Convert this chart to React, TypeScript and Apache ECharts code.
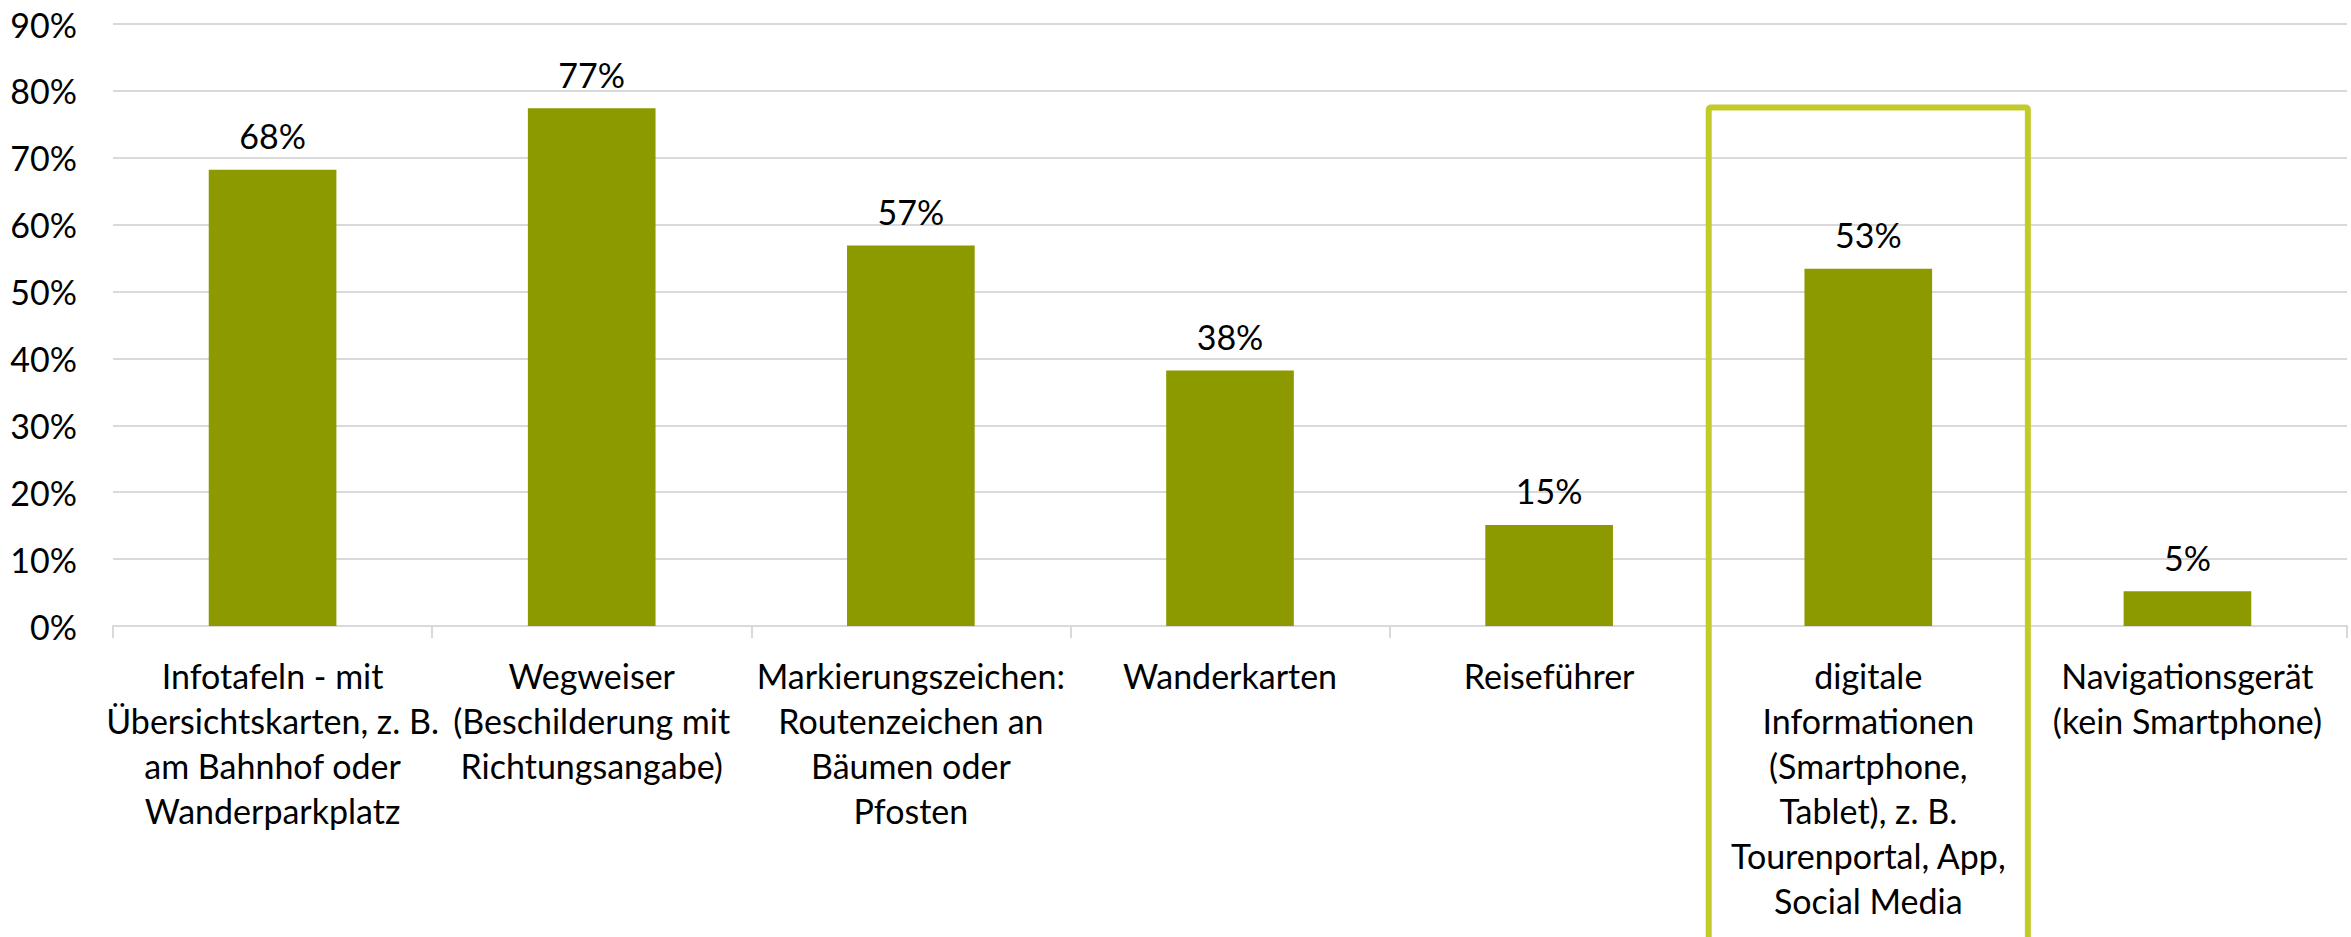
import React, { useEffect, useRef } from "react";
import * as echarts from "echarts";

const categories: string[] = [
  "Infotafeln - mit\nÜbersichtskarten, z. B.\nam Bahnhof oder\nWanderparkplatz",
  "Wegweiser\n(Beschilderung mit\nRichtungsangabe)",
  "Markierungszeichen:\nRoutenzeichen an\nBäumen oder\nPfosten",
  "Wanderkarten",
  "Reiseführer",
  "digitale\nInformationen\n(Smartphone,\nTablet), z. B.\nTourenportal, App,\nSocial Media",
  "Navigationsgerät\n(kein Smartphone)",
];
const values: number[] = [68.2, 77.4, 56.9, 38.2, 15.1, 53.4, 5.2];
const yTicks = { min: 0, max: 90, interval: 10 };
const highlightIndex = 5;
const highlightTopValue = 77.5;

const FONT = "Lato";
const BAR = "#8C9A00";
const BOX = "#C3CB2B";
const GRID = "#D9D9D9";

export default function App() {
  const ref = useRef<HTMLDivElement>(null);
  useEffect(() => {
    document.body.style.margin = "0";
    const el = ref.current!;
    const chart = echarts.init(el, null, { renderer: "svg" });
    chart.setOption({
      animation: false,
      textStyle: { fontFamily: FONT },
      grid: { left: 113, right: 4, top: 24, bottom: 311, containLabel: false },
      xAxis: {
        type: "category",
        data: categories,
        axisLine: { show: true, lineStyle: { color: GRID, width: 2 } },
        axisTick: { show: true, length: 12, lineStyle: { color: GRID, width: 2 } },
        axisLabel: {
          interval: 0,
          fontFamily: FONT,
          fontSize: 34,
          lineHeight: 45,
          color: "#000",
          margin: 27,
          verticalAlign: "top",
        },
      },
      yAxis: {
        type: "value",
        min: yTicks.min,
        max: yTicks.max,
        interval: yTicks.interval,
        axisLine: { show: false },
        axisTick: { show: false },
        axisLabel: {
          formatter: "{value}%",
          fontFamily: FONT,
          fontSize: 34,
          color: "#000",
          margin: 36,
        },
        splitLine: { lineStyle: { color: GRID, width: 2 } },
      },
      series: [
        {
          type: "bar",
          data: values,
          barWidth: "40%",
          itemStyle: { color: BAR },
          label: {
            show: true,
            position: "top",
            distance: 12,
            fontFamily: FONT,
            fontSize: 34,
            lineHeight: 44,
            color: "#000",
            formatter: (p: any) => Math.round(p.value) + "%",
          },
        },
      ],
    });
    const c = chart.convertToPixel({ xAxisIndex: 0 }, highlightIndex) as number;
    const c2 = chart.convertToPixel({ xAxisIndex: 0 }, highlightIndex + 1) as number;
    const band = c2 - c;
    const top = chart.convertToPixel({ yAxisIndex: 0 }, highlightTopValue) as number;
    const h = el.clientHeight;
    chart.setOption({
      graphic: [
        {
          type: "rect",
          shape: { x: c - band / 2, y: top, width: band, height: h - top + 20, r: 2 },
          style: { fill: "none", stroke: BOX, lineWidth: 6 },
          z: 10,
        },
      ],
    });
    return () => chart.dispose();
  }, []);
  return (
    <div
      ref={ref}
      style={{ position: "fixed", left: 0, top: 0, width: 2351, height: 937, background: "#fff" }}
    />
  );
}
